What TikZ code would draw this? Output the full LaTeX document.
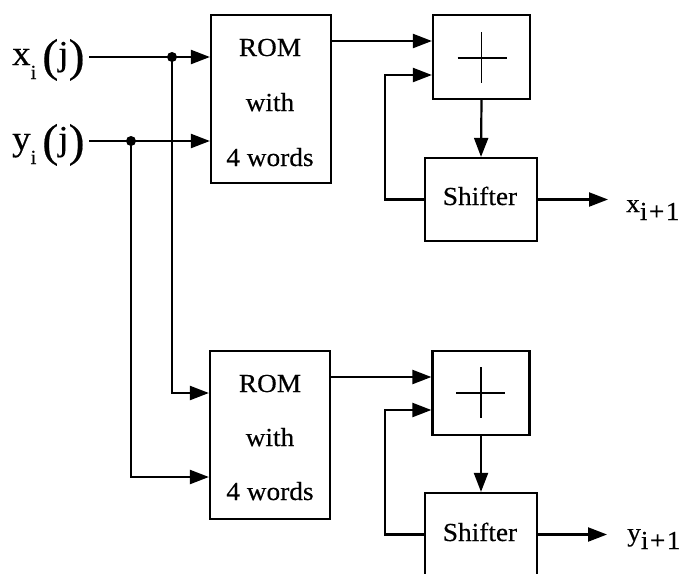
\documentclass[tikz,border=0pt]{standalone}
\usepackage{fontspec}
\setmainfont{Liberation Serif}
\newfontfamily\tf[FakeStretch=1.05,FakeBold=0.4]{Liberation Serif}
\usetikzlibrary{arrows.meta,calc}
\tikzset{
  box/.style={draw, line width=2.2pt, inner sep=0pt},
  wire/.style={line width=2.2pt},
  arr/.style={wire, -{Triangle[length=19pt,width=14pt]}},
  boxtext/.style={anchor=base, inner sep=0pt, font=\tf\fontsize{26}{26}\selectfont},
  lbl/.style={anchor=base west, inner sep=0pt},
  jdot/.style={circle, fill, inner sep=0pt, minimum size=10pt},
  rombox/.style={box, minimum width=120pt, minimum height=168pt},
  addbox/.style={box, minimum width=97pt, minimum height=84pt},
  shbox/.style={box, minimum width=112pt, minimum height=83pt},
}
\newcommand{\inlabel}[1]{\tf\fontsize{35}{35}\selectfont #1\raisebox{-14pt}{\fontsize{20}{20}\selectfont i}\,\raisebox{-6pt}{\fontsize{46}{46}\selectfont(}j\raisebox{-6pt}{\fontsize{46}{46}\selectfont)}}
\newcommand{\outlabel}[1]{\tf\fontsize{26}{26}\selectfont #1\raisebox{-8pt}{i\kern1.5pt+\kern1.5pt1}}
\begin{document}
\begin{tikzpicture}[x=1pt,y=-1pt]
\useasboundingbox (0,0) rectangle (685,573);
% boxes
\node[rombox] (rom1) at (271,99) {};
\node[addbox] (add1) at (481.5,57) {};
\node[shbox] (sh1) at (481,199.5) {};
\node[rombox] (rom2) at (270,435) {};
\node[addbox] (add2) at (481,393) {};
\node[shbox] (sh2) at (481,534.5) {};
% box texts
\node[boxtext] (r1a) at (270,56) {ROM};
\node[boxtext] (r1b) at (270,111) {with};
\node[boxtext] (r1c) at (270,166) {4 words};
\node[boxtext] (r2a) at (270,392) {ROM};
\node[boxtext] (r2b) at (270,446) {with};
\node[boxtext] (r2c) at (270,500) {4 words};
\node[boxtext] (s1t) at (480,205) {Shifter};
\node[boxtext] (s2t) at (480,541) {Shifter};
% plus signs
\draw[line width=1.8pt] ($(add1.center)+(-24,1)$) -- ($(add1.center)+(25,1)$);
\draw[line width=1.8pt] ($(add1.center)+(0,-25)$) -- ($(add1.center)+(0,26)$);
\draw[line width=1.8pt] ($(add2.center)+(-25,0)$) -- ($(add2.center)+(24,0)$);
\draw[line width=1.8pt] ($(add2.center)+(0,-26)$) -- ($(add2.center)+(0,25)$);
% input labels
\node[lbl] (xin) at (12,65) {\inlabel{x}};
\node[lbl] (yin) at (12,150) {\inlabel{y}};
% output labels
\node[lbl] (xout) at (626,212) {\outlabel{x}};
\node[lbl] (yout) at (627,541) {\outlabel{y}};
% helper coordinates
\coordinate (xs) at (89,57);
\coordinate (ys) at (89,141);
\node[jdot] (d1) at (172,57) {};
\node[jdot] (d2) at (131,141) {};
\coordinate (h41) at (0,41);
\coordinate (h377) at (0,377);
\coordinate (h393) at (0,393);
\coordinate (h477) at (0,477);
\coordinate (fb1) at (385,75);
\coordinate (fb2) at (385,410);
\coordinate (o1) at (608,199.5);
\coordinate (o2) at (607,534.5);
% connectors
\draw[arr] (xs) -- (rom1.west |- xs);
\draw[arr] (ys) -- (rom1.west |- ys);
\draw[arr] (d1.center) |- (rom2.west |- h393);
\draw[arr] (d2.center) |- (rom2.west |- h477);
\draw[arr] (rom1.east |- h41) -- (add1.west |- h41);
\draw[arr] (sh1.west) -| (fb1) -- (add1.west |- fb1);
\draw[arr] (add1.south) -- (sh1.north);
\draw[arr] (sh1.east) -- (o1);
\draw[arr] (rom2.east |- h377) -- (add2.west |- h377);
\draw[arr] (sh2.west) -| (fb2) -- (add2.west |- fb2);
\draw[arr] (add2.south) -- (sh2.north);
\draw[arr] (sh2.east) -- (o2);
\end{tikzpicture}
\end{document}
